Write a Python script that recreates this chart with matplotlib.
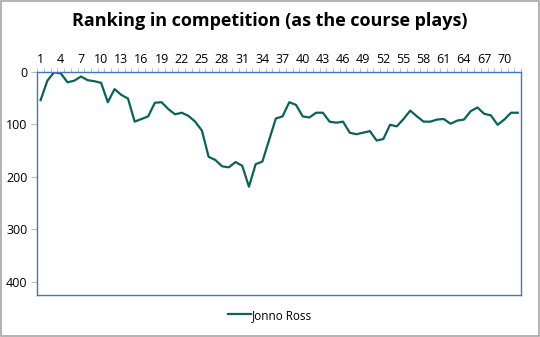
import numpy as np
import matplotlib.pyplot as plt

plt.rcParams['font.family'] = ['Open Sans', 'DejaVu Sans']

# hole number (as the course plays) and ranking after each hole
holes = list(range(1, 73))
ranking = [54, 17, 1, 3, 20, 17, 9, 16, 18, 21,
           58, 33, 44, 51, 95, 90, 85, 59, 58, 71,
           81, 78, 84, 95, 112, 162, 168, 180, 182, 172,
           179, 219, 176, 171, 130, 89, 85, 58, 63, 85,
           87, 78, 78, 95, 97, 95, 116, 119, 116, 113,
           131, 128, 101, 104, 90, 74, 85, 95, 95, 91,
           90, 99, 93, 91, 75, 68, 80, 83, 101, 91,
           78, 78]
player = "Jonno Ross"
xtick_labels = list(range(1, 71, 3))
ytick_values = [0, 100, 200, 300, 400]

fig = plt.figure(figsize=(5.4, 3.37), dpi=100)
ax = fig.add_axes([0.069, 0.125, 0.896, 0.662])

ax.plot(holes, ranking, color='#0b625a', linewidth=1.6, label=player)

ax.set_xlim(0.5, 72.5)
ax.set_ylim(425, 0)

ax.xaxis.tick_top()
ax.set_xticks(xtick_labels)
ax.set_xticklabels([str(v) for v in xtick_labels])
ax.set_xticks(np.arange(0.5, 73, 1), minor=True)
ax.tick_params(axis='x', which='major', length=0, pad=4.5, labelsize=9, labelcolor='black')
ax.tick_params(axis='x', which='minor', length=3, color='#bfbfbf', width=0.8)

ax.set_yticks(ytick_values)
ax.tick_params(axis='y', length=4, color='#bfbfbf', width=0.8, labelsize=9, labelcolor='black', pad=3)

for s in ax.spines.values():
    s.set_color('#4472c4')
    s.set_linewidth(1.0)

fig.suptitle("Ranking in competition (as the course plays)", y=0.965,
             fontsize=13, fontweight='bold')

fig.legend(loc='center', bbox_to_anchor=(0.5, 0.065), frameon=False,
           fontsize=8.5, handlelength=2.0, handletextpad=0.1)

# outer chart border
fig.patches.append(plt.Rectangle((0.001, 0.002), 0.997, 0.995, transform=fig.transFigure,
                                 fill=False, edgecolor='#a6a6a6', linewidth=1.2))

fig.savefig('out.png', dpi=100)
